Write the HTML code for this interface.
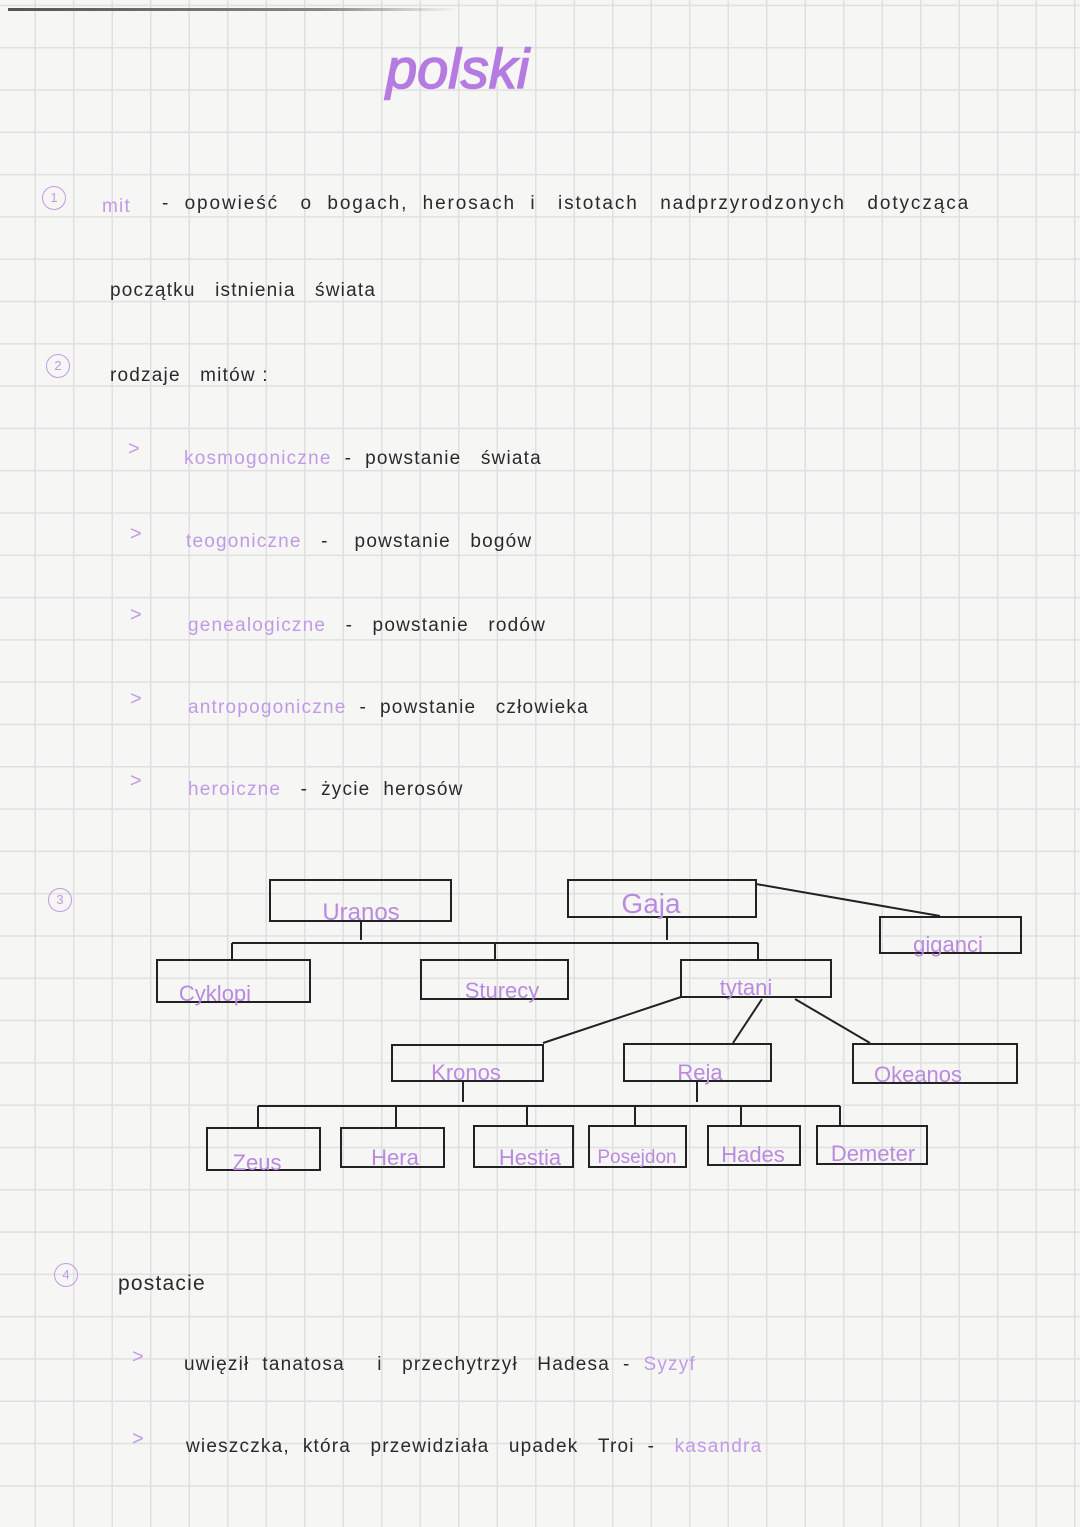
<!DOCTYPE html>
<html><head><meta charset="utf-8"><style>
html,body{margin:0;padding:0}
body{width:1080px;height:1527px;position:relative;overflow:hidden;background:#f6f6f5;
background-image:linear-gradient(to right,#e0e0e0 1.3px,transparent 1.3px),linear-gradient(to bottom,#e0e0e0 1.3px,transparent 1.3px);
background-size:38.5px 42.3px;background-position:-4px 4.7px;font-family:"Liberation Sans",sans-serif;}
.t{position:absolute;font-size:19px;color:#2a2a2a;white-space:nowrap;letter-spacing:1.2px}
.p{color:#c19ae6}
.n{position:absolute;width:22px;height:22px;border:1.5px solid #c19ae6;border-radius:50%;color:#c19ae6;font-size:13px;text-align:center;line-height:22px}
.a{position:absolute;color:#c19ae6;font-size:20px}
svg{position:absolute;left:0;top:0}
</style></head><body>
<div style="position:absolute;left:8px;top:8px;width:450px;height:3px;background:linear-gradient(to right,#555,#888 70%,rgba(0,0,0,0))"></div>
<div class="t" style="left:386px;top:36px;font-size:56px;font-weight:normal;font-style:italic;color:#b57be0;letter-spacing:0;-webkit-text-stroke:1.5px #b57be0">polski</div>

<div class="n" style="left:42px;top:186px">1</div>
<div class="t p" style="left:102px;top:196px">mit</div>
<div class="t" style="left:162px;top:193px;letter-spacing:1.9px">-&nbsp; opowieść &nbsp;&nbsp;o &nbsp;bogach, &nbsp;herosach &nbsp;i &nbsp;&nbsp;istotach &nbsp;&nbsp;nadprzyrodzonych &nbsp;&nbsp;dotycząca</div>
<div class="t" style="left:110px;top:280px">początku &nbsp;&nbsp;istnienia &nbsp;&nbsp;świata</div>

<div class="n" style="left:46px;top:354px">2</div>
<div class="t" style="left:110px;top:365px">rodzaje &nbsp;&nbsp;mitów :</div>

<div class="a" style="left:128px;top:438px">&gt;</div>
<div class="t" style="left:184px;top:448px"><span class="p">kosmogoniczne</span> &nbsp;- &nbsp;powstanie &nbsp;&nbsp;świata</div>
<div class="a" style="left:130px;top:523px">&gt;</div>
<div class="t" style="left:186px;top:531px"><span class="p">teogoniczne</span> &nbsp;&nbsp;- &nbsp;&nbsp;&nbsp;powstanie &nbsp;&nbsp;bogów</div>
<div class="a" style="left:130px;top:604px">&gt;</div>
<div class="t" style="left:188px;top:615px"><span class="p">genealogiczne</span> &nbsp;&nbsp;- &nbsp;&nbsp;powstanie &nbsp;&nbsp;rodów</div>
<div class="a" style="left:130px;top:688px">&gt;</div>
<div class="t" style="left:188px;top:697px"><span class="p">antropogoniczne</span> &nbsp;- &nbsp;powstanie &nbsp;&nbsp;człowieka</div>
<div class="a" style="left:130px;top:770px">&gt;</div>
<div class="t" style="left:188px;top:779px"><span class="p">heroiczne</span> &nbsp;&nbsp;- &nbsp;życie &nbsp;herosów</div>

<div class="n" style="left:48px;top:888px">3</div>

<svg width="1080" height="1527" viewBox="0 0 1080 1527">
<g fill="none" stroke="#222" stroke-width="2">
<rect x="270" y="880" width="181" height="41"/>
<rect x="568" y="880" width="188" height="37"/>
<rect x="880" y="917" width="141" height="36"/>
<rect x="157" y="960" width="153" height="42"/>
<rect x="421" y="960" width="147" height="39"/>
<rect x="681" y="960" width="150" height="37"/>
<rect x="392" y="1045" width="151" height="36"/>
<rect x="624" y="1044" width="147" height="37"/>
<rect x="853" y="1044" width="164" height="39"/>
<rect x="207" y="1128" width="113" height="42"/>
<rect x="341" y="1128" width="103" height="39"/>
<rect x="474" y="1126" width="99" height="41"/>
<rect x="589" y="1126" width="97" height="41"/>
<rect x="708" y="1126" width="92" height="39"/>
<rect x="817" y="1126" width="110" height="38"/>
<path d="M756 884 L940 916"/>
<path d="M361 921 V940 M667 917 V940"/>
<path d="M232 943 H758 M232 943 V960 M495 943 V960 M758 943 V960"/>
<path d="M681 997 L543 1043 M762 999 L733 1043 M795 999 L870 1043"/>
<path d="M463 1081 V1102 M697 1081 V1102"/>
<path d="M258 1106 H840 M258 1106 V1128 M396 1106 V1128 M527 1106 V1126 M635 1106 V1126 M741 1106 V1126 M840 1106 V1126"/>
</g>
<g fill="#b98ae0" font-family="Liberation Sans, sans-serif" font-size="22" text-anchor="middle">
<text x="361" y="920" font-size="24">Uranos</text>
<text x="651" y="913" font-size="28">Gaja</text>
<text x="948" y="952">giganci</text>
<text x="215" y="1001">Cyklopi</text>
<text x="502" y="998">Sturecy</text>
<text x="746" y="995">tytani</text>
<text x="466" y="1080">Kronos</text>
<text x="700" y="1080">Reja</text>
<text x="918" y="1082">Okeanos</text>
<text x="257" y="1170">Zeus</text>
<text x="395" y="1165">Hera</text>
<text x="530" y="1165">Hestia</text>
<text x="637" y="1163" font-size="19">Posejdon</text>
<text x="753" y="1162">Hades</text>
<text x="873" y="1161">Demeter</text>
</g>
</svg>

<div class="n" style="left:54px;top:1263px">4</div>
<div class="t" style="left:118px;top:1272px;font-size:21px">postacie</div>
<div class="a" style="left:132px;top:1346px">&gt;</div>
<div class="t" style="left:184px;top:1354px">uwięził &nbsp;tanatosa &nbsp;&nbsp;&nbsp;&nbsp;i &nbsp;&nbsp;przechytrzył &nbsp;&nbsp;Hadesa &nbsp;- &nbsp;<span class="p">Syzyf</span></div>
<div class="a" style="left:132px;top:1428px">&gt;</div>
<div class="t" style="left:186px;top:1436px">wieszczka, &nbsp;która &nbsp;&nbsp;przewidziała &nbsp;&nbsp;upadek &nbsp;&nbsp;Troi &nbsp;- &nbsp;&nbsp;<span class="p">kasandra</span></div>
</body></html>
